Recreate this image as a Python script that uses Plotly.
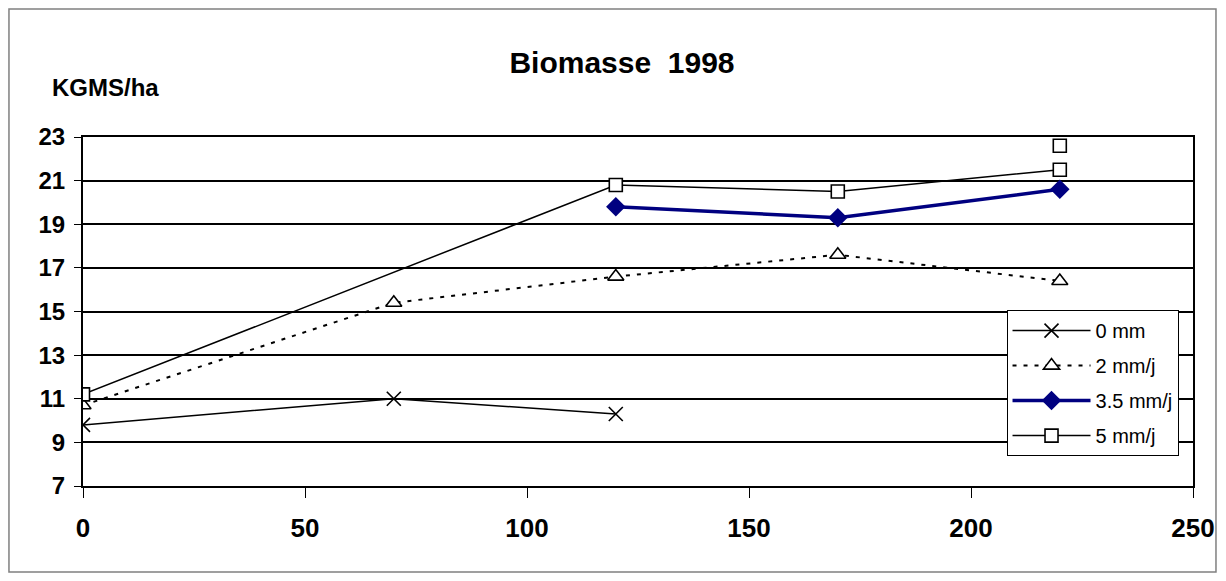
import plotly.graph_objects as go

# data
x_0mm = [0, 70, 120]
y_0mm = [9.8, 11.0, 10.3]

x_2mm = [0, 70, 120, 170, 220]
y_2mm = [10.7, 15.4, 16.6, 17.6, 16.4]

x_35mm = [120, 170, 220]
y_35mm = [19.8, 19.3, 20.6]

x_5mm = [0, 120, 170, 220]
y_5mm = [11.2, 20.8, 20.5, 21.5]

# lone square above the 5 mm/j line at 220
x_5mm_extra = [220]
y_5mm_extra = [22.6]

y_ticks = [7, 9, 11, 13, 15, 17, 19, 21, 23]
x_ticks = [0, 50, 100, 150, 200, 250]

FONT = "Liberation Sans, Arial, sans-serif"

fig = go.Figure()

fig.add_trace(go.Scatter(
    x=x_0mm, y=y_0mm, name="0 mm", mode="lines+markers", legendgroup="a",
    line=dict(color="black", width=1.5),
    marker=dict(symbol="x-thin", size=14, line=dict(color="black", width=1.6)),
))
fig.add_trace(go.Scatter(
    x=x_2mm, y=y_2mm, name="2 mm/j", mode="lines+markers", legendgroup="b",
    line=dict(color="black", width=2, dash="4px,7px"),
    marker=dict(symbol="triangle-up", size=14, color="white",
                line=dict(color="black", width=1.6)),
))
fig.add_trace(go.Scatter(
    x=x_35mm, y=y_35mm, name="3.5 mm/j", mode="lines+markers", legendgroup="c",
    line=dict(color="#000080", width=3.5),
    marker=dict(symbol="diamond", size=15, color="#000080"),
))
fig.add_trace(go.Scatter(
    x=x_5mm, y=y_5mm, name="5 mm/j", mode="lines+markers", legendgroup="d",
    line=dict(color="black", width=1.5),
    marker=dict(symbol="square", size=13, color="white",
                line=dict(color="black", width=1.6)),
))
fig.add_trace(go.Scatter(
    x=x_5mm_extra, y=y_5mm_extra, name="5 mm/j", mode="markers",
    legendgroup="d", showlegend=False,
    marker=dict(symbol="square", size=13, color="white",
                line=dict(color="black", width=1.6)),
))

fig.update_layout(
    width=1210, height=565,
    margin=dict(l=75, r=25, t=129, b=87, autoexpand=False),
    paper_bgcolor="white", plot_bgcolor="white",
    font=dict(family=FONT, color="black"),
    title=dict(text="<b>Biomasse  1998</b>", font=dict(size=30),
               x=0.5074, xref="container", xanchor="center",
               y=0.904, yref="container", yanchor="middle"),
    legend=dict(x=0.832, y=0.504, xanchor="left", yanchor="top",
                bordercolor="black", borderwidth=1, bgcolor="white",
                font=dict(size=20), tracegroupgap=6, itemwidth=78),
    showlegend=True,
)

fig.update_xaxes(
    range=[0, 250], tickvals=x_ticks, showgrid=False, zeroline=False,
    showline=True, linecolor="black", linewidth=2, mirror=True,
    ticks="outside", ticklen=10, tickcolor="black", tickwidth=1,
    tickfont=dict(size=26, weight="bold"), ticklabelstandoff=8,
    automargin=False,
)
fig.update_yaxes(
    range=[7, 23], tickvals=y_ticks, showgrid=True, gridcolor="black",
    gridwidth=1.5, zeroline=False,
    showline=True, linecolor="black", linewidth=2, mirror=True,
    ticks="outside", ticklen=7, tickcolor="black", tickwidth=1,
    tickfont=dict(size=24, weight="bold"), ticklabelstandoff=4,
    automargin=False,
)

fig.add_annotation(
    text="<b>KGMS/ha</b>", xref="paper", yref="paper", x=0.0207, y=1.143,
    xanchor="center", yanchor="middle", showarrow=False, font=dict(size=24),
)

# outer chart border
fig.add_shape(type="rect", xref="paper", yref="paper",
              x0=-0.0667, x1=1.0207, y0=-0.2464, y1=1.3668,
              line=dict(color="#808080", width=1.5), layer="below")

fig.write_html("out.html")
